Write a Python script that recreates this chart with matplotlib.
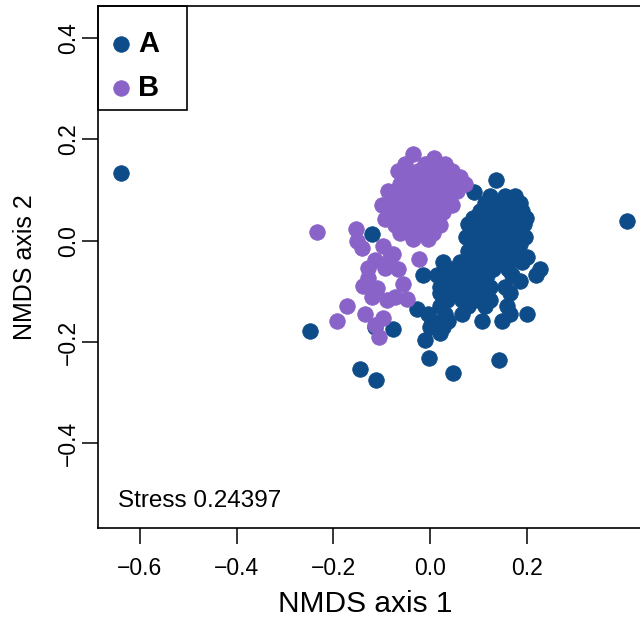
import matplotlib
matplotlib.use("Agg")
import matplotlib.pyplot as plt
from matplotlib.patches import Rectangle

plt.rcParams['font.family'] = ['Liberation Sans', 'DejaVu Sans']

# NMDS scores, group A
a_x = [-0.639, 0.408, -0.248, -0.145, -0.112, 0.048, 0.143, -0.002, -0.010, -0.027, -0.077, -0.114, -0.120,
       0.137, 0.091, 0.124, 0.155, 0.176, 0.114, 0.145, 0.170, 0.186, 0.103, 0.132, 0.161, 0.190,
       0.089, 0.120, 0.149, 0.178, 0.199, 0.079, 0.108, 0.137, 0.166, 0.194, 0.097, 0.124, 0.153, 0.182,
       0.074, 0.114, 0.141, 0.170, 0.197, 0.087, 0.124, 0.155, 0.186, 0.079, 0.103, 0.134, 0.166,
       0.093, 0.120, 0.149, 0.178, 0.201, 0.027, 0.062, 0.083, 0.114, 0.145, 0.190,
       0.041, 0.072, 0.099, 0.130, 0.161, 0.228, -0.014, 0.014, 0.052, 0.083, 0.118, 0.170, 0.219,
       0.031, 0.062, 0.103, 0.186, 0.021, 0.052, 0.083, 0.124, 0.155, 0.021, 0.048, 0.079, 0.110, 0.166,
       0.035, 0.066, 0.093, 0.124, 0.021, 0.079, 0.114, 0.159, -0.004, 0.031, 0.066, 0.166, 0.201,
       0.004, 0.037, 0.108, 0.149, 0.000, 0.027, 0.021]
a_y = [0.134, 0.039, -0.179, -0.254, -0.276, -0.262, -0.236, -0.231, -0.197, -0.134, -0.175, -0.171, 0.014,
       0.120, 0.097, 0.089, 0.089, 0.089, 0.075, 0.075, 0.075, 0.075, 0.059, 0.059, 0.059, 0.059,
       0.045, 0.045, 0.045, 0.045, 0.045, 0.032, 0.032, 0.032, 0.032, 0.032, 0.018, 0.018, 0.018, 0.018,
       0.008, 0.008, 0.008, 0.008, 0.008, -0.006, -0.006, -0.006, -0.006, -0.020, -0.020, -0.020, -0.020,
       -0.032, -0.032, -0.032, -0.032, -0.032, -0.043, -0.043, -0.043, -0.043, -0.043, -0.043,
       -0.055, -0.055, -0.055, -0.055, -0.055, -0.055, -0.067, -0.067, -0.067, -0.067, -0.067, -0.067, -0.067,
       -0.079, -0.079, -0.079, -0.079, -0.091, -0.091, -0.091, -0.091, -0.091, -0.104, -0.104, -0.104, -0.104, -0.104,
       -0.118, -0.118, -0.118, -0.118, -0.130, -0.130, -0.130, -0.130, -0.144, -0.144, -0.144, -0.144, -0.144,
       -0.158, -0.158, -0.158, -0.158, -0.171, -0.171, -0.183]

# NMDS scores, group B
b_x = [-0.234, -0.153, -0.151, -0.141, -0.097, -0.077, -0.128, -0.093, -0.066, -0.023, -0.128, -0.139, -0.110,
       -0.056, -0.120, -0.089, -0.072, -0.048, -0.172, -0.134, -0.097, -0.192, -0.106, -0.114, -0.083, -0.114,
       -0.035, 0.008, -0.052, -0.010, 0.031, -0.066, -0.025, 0.014, 0.046, -0.041, -0.004, 0.033, 0.062,
       -0.062, -0.025, 0.012, 0.046, 0.072, -0.087, -0.052, -0.014, 0.021, 0.056, -0.072, -0.035, 0.000, 0.035,
       -0.099, -0.062, -0.025, 0.012, 0.046, -0.083, -0.046, -0.008, 0.027, -0.093, -0.066, -0.031, 0.004,
       -0.072, -0.041, -0.010, 0.021, -0.062, -0.025, 0.006, -0.035, -0.004]
b_y = [0.018, 0.024, 0.000, -0.014, -0.010, -0.026, -0.053, -0.053, -0.055, -0.037, -0.073, -0.089, -0.093,
       -0.085, -0.112, -0.118, -0.112, -0.116, -0.130, -0.144, -0.152, -0.158, -0.191, -0.167, -0.035, -0.039,
       0.171, 0.164, 0.152, 0.152, 0.152, 0.138, 0.138, 0.138, 0.138, 0.126, 0.126, 0.126, 0.126,
       0.112, 0.112, 0.112, 0.112, 0.112, 0.099, 0.099, 0.099, 0.099, 0.099, 0.085, 0.085, 0.085, 0.085,
       0.071, 0.071, 0.071, 0.071, 0.071, 0.057, 0.057, 0.057, 0.057, 0.043, 0.043, 0.043, 0.043,
       0.030, 0.030, 0.030, 0.030, 0.016, 0.016, 0.016, 0.004, 0.004]

stress = 0.24397
x_ticks = [-0.6, -0.4, -0.2, 0.0, 0.2]
y_ticks = [-0.4, -0.2, 0.0, 0.2, 0.4]

col_a = '#0e4c89'
col_b = '#8a63c8'

fig = plt.figure(figsize=(6.4, 6.22), dpi=100)
# plot region runs a little past the right edge of the picture
ax = fig.add_axes([0.153, 0.151, 0.858, 0.839])

ax.scatter(a_x, a_y, s=125, color=col_a, edgecolors=col_a, linewidths=0.6, label='A', zorder=3)
ax.scatter(b_x, b_y, s=125, color=col_b, edgecolors=col_b, linewidths=0.6, label='B', zorder=3)

ax.set_xlim(-0.687, 0.449)
ax.set_ylim(-0.5676, 0.463)
ax.set_xticks(x_ticks)
ax.set_yticks(y_ticks)

ax.spines['right'].set_visible(False)
for side in ['left', 'top', 'bottom']:
    ax.spines[side].set_linewidth(1.2)
    ax.spines[side].set_color('black')

ax.tick_params(axis='both', direction='out', length=11.5, width=1.1, labelsize=16.5)
ax.tick_params(axis='x', pad=9)
ax.tick_params(axis='y', pad=1.5, labelrotation=90)
for lab in ax.get_yticklabels():
    lab.set_va('center')

ax.set_xlabel('NMDS axis 1', fontsize=21.5, labelpad=7.5, x=0.487)
ax.set_ylabel('NMDS axis 2', fontsize=18, labelpad=14)

ax.text(0.036, 0.051, 'Stress %.5f' % stress, transform=ax.transAxes,
        fontsize=17.5, ha='left', va='center')

# legend box drawn on its own, entries placed inside it
ax.add_patch(Rectangle((0, 0.801), 0.162, 0.199, transform=ax.transAxes, fill=False,
                       edgecolor='black', linewidth=1.2, zorder=5, clip_on=False))
ax.legend(loc='upper left', bbox_to_anchor=(0, 0.983), borderaxespad=0,
          borderpad=0.5, labelspacing=0.55, handlelength=0.58, handletextpad=0.3,
          scatterpoints=1, frameon=False, prop={'size': 21, 'weight': 'bold'})

fig.savefig('out.png', dpi=100)
